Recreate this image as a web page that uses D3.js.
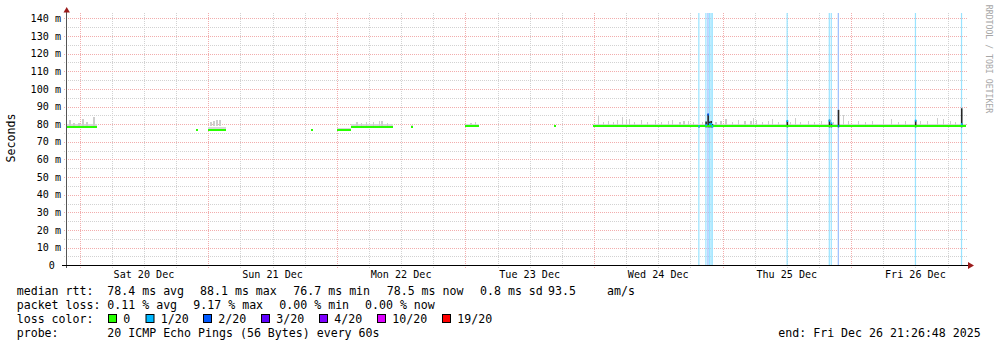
<!DOCTYPE html>
<html>
<head>
<meta charset="utf-8">
<script src="https://cdn.jsdelivr.net/npm/d3@7"></script>
<style>
  html, body { margin: 0; padding: 0; background: #fff; }
  svg { display: block; font-family: "DejaVu Sans Mono", monospace; }
  text { white-space: pre; }
</style>
</head>
<body>
<svg id="svg" width="997" height="347"></svg>
<script>
// ---- data ----
const rangeStart = "2025-12-19 21:26:48";
const rangeEnd = "2025-12-26 21:26:48";
const yTicks = [0, 10, 20, 30, 40, 50, 60, 70, 80, 90, 100, 110, 120, 130, 140];

// [start, end, median rtt (ms), upper smoke (ms)]
const rttSegments = [
  ["2025-12-19 21:42", "2025-12-20 03:18", 78.5, 80.0],
  ["2025-12-20 21:46", "2025-12-20 22:08", 76.6, 77.5],
  ["2025-12-21 00:00", "2025-12-21 03:22", 76.9, 78.3],
  ["2025-12-21 19:14", "2025-12-21 19:36", 76.8, 77.5],
  ["2025-12-22 00:02", "2025-12-22 02:40", 76.9, 78.0],
  ["2025-12-22 02:40", "2025-12-22 10:29", 78.6, 80.0],
  ["2025-12-22 13:56", "2025-12-22 14:18", 78.6, 79.3],
  ["2025-12-23 00:00", "2025-12-23 02:36", 78.7, 80.0],
  ["2025-12-23 16:36", "2025-12-23 16:58", 78.8, 79.5],
  ["2025-12-23 23:52", "2025-12-26 21:26", 78.7, 80.3]
];

// [time, top of smoke (ms)]
const smokeSpikes = [
  ["2025-12-19 22:05", 82.3], ["2025-12-19 22:50", 80.8], ["2025-12-19 23:45", 80.5],
  ["2025-12-20 00:30", 83.0], ["2025-12-20 01:15", 81.0], ["2025-12-20 02:34", 84.0],
  ["2025-12-21 00:24", 81.5], ["2025-12-21 00:57", 82.0], ["2025-12-21 01:31", 82.5], ["2025-12-21 02:05", 82.3],
  ["2025-12-22 03:40", 81.5], ["2025-12-22 04:34", 80.8], ["2025-12-22 05:30", 81.5],
  ["2025-12-22 06:40", 81.0], ["2025-12-22 07:47", 82.0], ["2025-12-22 08:20", 82.0], ["2025-12-22 09:18", 80.5],
  ["2025-12-23 00:55", 80.5], ["2025-12-23 01:50", 81.0],
  ["2025-12-24 00:48", 84.8], ["2025-12-24 01:44", 81.5], ["2025-12-24 02:40", 82.0],
  ["2025-12-24 03:36", 81.3], ["2025-12-24 04:21", 82.3], ["2025-12-24 05:17", 84.2],
  ["2025-12-24 06:02", 82.5], ["2025-12-24 06:35", 83.0], ["2025-12-24 07:31", 81.5],
  ["2025-12-24 08:50", 82.5], ["2025-12-24 09:57", 81.2], ["2025-12-24 11:26", 82.5],
  ["2025-12-24 12:34", 81.5], ["2025-12-24 13:52", 81.8], ["2025-12-24 14:36", 82.3],
  ["2025-12-24 15:56", 81.5], ["2025-12-24 16:41", 82.0], ["2025-12-24 17:36", 81.7],
  ["2025-12-24 18:32", 81.5], ["2025-12-24 20:12", 81.0], ["2025-12-24 22:39", 81.5],
  ["2025-12-24 23:35", 82.0], ["2025-12-25 00:31", 83.0], ["2025-12-25 01:49", 81.5],
  ["2025-12-25 02:56", 82.3], ["2025-12-25 04:04", 81.8], ["2025-12-25 05:11", 82.0],
  ["2025-12-25 05:44", 83.3], ["2025-12-25 06:18", 82.5], ["2025-12-25 07:25", 81.5],
  ["2025-12-25 08:32", 82.0], ["2025-12-25 09:17", 83.0], ["2025-12-25 10:24", 81.5],
  ["2025-12-25 12:38", 81.2], ["2025-12-25 13:34", 83.7], ["2025-12-25 14:30", 81.5],
  ["2025-12-25 16:00", 82.0], ["2025-12-25 17:07", 81.5], ["2025-12-25 18:26", 82.0],
  ["2025-12-25 20:40", 81.5], ["2025-12-25 22:32", 85.0], ["2025-12-25 23:28", 81.8],
  ["2025-12-26 01:20", 82.0], ["2025-12-26 02:38", 81.5], ["2025-12-26 03:56", 81.8],
  ["2025-12-26 06:00", 83.0], ["2025-12-26 07:29", 82.8], ["2025-12-26 08:47", 81.5],
  ["2025-12-26 10:06", 81.7], ["2025-12-26 12:54", 81.8], ["2025-12-26 14:12", 82.0],
  ["2025-12-26 16:04", 83.5], ["2025-12-26 17:11", 83.0], ["2025-12-26 18:30", 82.0],
  ["2025-12-26 19:25", 81.5]
];

// [time, lost pings of 20, median rtt (ms), max rtt (ms)]
const lossEvents = [
  ["2025-12-24 19:28", 1, 78.8, 79.5],
  ["2025-12-24 20:47", 1, 79.5, 81.5],
  ["2025-12-24 21:10", 2, 85.5, 85.8],
  ["2025-12-24 21:27", 1, 80.0, 81.5],
  ["2025-12-24 21:44", 1, 80.0, 81.8],
  ["2025-12-24 21:58", 1, 78.8, 80.0],
  ["2025-12-25 11:57", 1, 81.8, 82.0],
  ["2025-12-25 19:49", 1, 82.0, 82.5],
  ["2025-12-25 20:11", 1, 80.5, 80.5],
  ["2025-12-25 21:30", 2, 79.0, 88.1],
  ["2025-12-26 11:54", 1, 82.0, 82.2],
  ["2025-12-26 20:30", 1, 80.0, 89.0]
];

const lossLabels = ["0", "1/20", "2/20", "3/20", "4/20", "10/20", "19/20"];
const lossCounts = [0, 1, 2, 3, 4, 10, 19];
const lossColors = ["#26ff00", "#00b8ff", "#0059ff", "#5e00ff", "#7e00ff", "#dd00ff", "#ff0000"];

const rttStats = ["78.4 ms avg", "88.1 ms max", "76.7 ms min", "78.5 ms now", "0.8 ms sd", "93.5", "am/s"];
const lossStats = ["0.11 % avg", "9.17 % max", "0.00 % min", "0.00 % now"];
const probeText = "20 ICMP Echo Pings (56 Bytes) every 60s";
const endText = "end: Fri Dec 26 21:26:48 2025";

// ---- drawing ----
const parseFull = d3.utcParse("%Y-%m-%d %H:%M:%S");
const parse = d3.utcParse("%Y-%m-%d %H:%M");
const t0 = parseFull(rangeStart), t1 = parseFull(rangeEnd);
const stepMs = 11.2 * 60 * 1000;

const x = d3.scaleUtc().domain([t0, t1]).range([66, 966]);
const y = d3.scaleLinear().domain([0, 143]).range([265.3, 13]);
const colorOf = (n) => lossColors[lossCounts.indexOf(n)];
const lightOf = (n) => d3.interpolateRgb(colorOf(n), "#fff")(0.6);

const svg = d3.select("#svg");
const fontAxis = "10.1px", fontLegend = "11.6px";

// grid
const grid = svg.append("g").attr("shape-rendering", "crispEdges")
  .attr("stroke-dasharray", "1,1").attr("stroke-width", 1);
const minorY = d3.range(5, 143, 10);
grid.selectAll(".gy").data(minorY).join("line")
  .attr("x1", 64).attr("x2", 968).attr("y1", d => Math.round(y(d)) + 0.5).attr("y2", d => Math.round(y(d)) + 0.5)
  .attr("stroke", "#d2d2d2");
const sixHours = d3.utcHour.every(6).range(t0, t1).filter(d => d.getUTCHours() !== 0);
grid.selectAll(".gx").data(sixHours).join("line")
  .attr("x1", d => Math.round(x(d)) + 0.5).attr("x2", d => Math.round(x(d)) + 0.5)
  .attr("y1", 13).attr("y2", 268).attr("stroke", "#d2d2d2");
grid.selectAll(".my").data(yTicks.filter(d => d > 0)).join("line")
  .attr("x1", 64).attr("x2", 968).attr("y1", d => Math.round(y(d)) + 0.5).attr("y2", d => Math.round(y(d)) + 0.5)
  .attr("stroke", "#f2adad");
const days = d3.utcDay.range(t0, t1);
grid.selectAll(".mx").data(days).join("line")
  .attr("x1", d => Math.round(x(d)) + 0.5).attr("x2", d => Math.round(x(d)) + 0.5)
  .attr("y1", 13).attr("y2", 268).attr("stroke", "#f2adad");

// loss background bars
svg.append("g").selectAll("rect").data(lossEvents).join("rect")
  .attr("x", d => x(parse(d[0])))
  .attr("width", d => Math.max(1.2, x(+parse(d[0]) + stepMs) - x(parse(d[0]))))
  .attr("y", y(143)).attr("height", y(0) - y(143))
  .attr("fill", d => lightOf(d[1]));

// smoke
const smoke = svg.append("g").attr("fill", "#d8d8d8").attr("shape-rendering", "crispEdges");
smoke.selectAll(".band").data(rttSegments).join("rect")
  .attr("x", d => x(parse(d[0])))
  .attr("width", d => x(parse(d[1])) - x(parse(d[0])))
  .attr("y", d => y(d[3])).attr("height", d => y(d[2]) - y(d[3]));
smoke.selectAll(".spike").data(smokeSpikes).join("rect")
  .attr("x", d => x(parse(d[0])))
  .attr("width", 1.2)
  .attr("y", d => y(d[1])).attr("height", d => y(78.7) - y(d[1]))
  .attr("fill", "#cdcdcd");

// dark smoke at loss times
svg.append("g").selectAll("rect").data(lossEvents).join("rect")
  .attr("x", d => x(parse(d[0])))
  .attr("width", 1.6)
  .attr("y", d => y(d[3])).attr("height", d => y(78.2) - y(d[3]))
  .attr("fill", "#262626");

// median line (loss 0)
const line = d3.line().x(d => x(d[0])).y(d => y(d[1])).defined(d => d !== null);
const pts = [];
rttSegments.forEach(s => { pts.push([parse(s[0]), s[2]], [parse(s[1]), s[2]], null); });
svg.append("path").datum(pts).attr("d", line)
  .attr("fill", "none").attr("stroke", lossColors[0]).attr("stroke-width", 2)
  .attr("shape-rendering", "crispEdges");

// median coloured by loss
svg.append("g").selectAll("rect").data(lossEvents).join("rect")
  .attr("x", d => x(parse(d[0])))
  .attr("width", 1.6)
  .attr("y", d => y(d[2]) - 1).attr("height", 2)
  .attr("fill", d => colorOf(d[1]));

// axes
svg.append("line").attr("x1", 66.5).attr("x2", 66.5).attr("y1", 12).attr("y2", 268)
  .attr("stroke", "#555").attr("shape-rendering", "crispEdges");
svg.append("line").attr("x1", 62).attr("x2", 969).attr("y1", 265.5).attr("y2", 265.5)
  .attr("stroke", "#000").attr("shape-rendering", "crispEdges");
svg.append("path").attr("d", "M63.5,12.5L69.9,12.5L66.7,7Z").attr("fill", "#9b1c1c");
svg.append("path").attr("d", "M968,262L968,269L974,265.5Z").attr("fill", "#9b1c1c");

// y labels
svg.append("g").selectAll("text").data(yTicks).join("text")
  .attr("x", 61).attr("y", d => y(d) + 3.7)
  .attr("text-anchor", "end").style("font-size", fontAxis).attr("fill", "#000")
  .text(d => d === 0 ? "0 " : d + " m");

// x labels at noon
svg.append("g").selectAll("text").data(days).join("text")
  .attr("x", d => x(d3.utcHour.offset(d, 12))).attr("y", 278)
  .attr("text-anchor", "middle").style("font-size", fontAxis).attr("fill", "#000")
  .text(d3.utcFormat("%a %d %b"));

// vertical unit label
svg.append("text").attr("transform", "translate(15,138) rotate(-90)")
  .attr("text-anchor", "middle").style("font-size", fontLegend).text("Seconds");

// watermark
svg.append("text").attr("transform", "translate(985.8,59) rotate(90)")
  .attr("text-anchor", "middle").style("font-size", "8.2px").attr("fill", "#a6a6a6")
  .text("RRDTOOL / TOBI OETIKER");

// legend
const leg = svg.append("g").style("font-size", fontLegend).attr("fill", "#000");
const rttCols = [107.3, 200, 293.3, 386.7, 480, 548, 607];
leg.append("text").attr("x", 16.7).attr("y", 295).text("median rtt:");
leg.selectAll(".rs").data(rttStats).join("text")
  .attr("x", (d, i) => rttCols[i]).attr("y", 295).text(d => d);
const lossCols = [107.3, 193.3, 279.3, 365];
leg.append("text").attr("x", 16.7).attr("y", 309).text("packet loss:");
leg.selectAll(".ls").data(lossStats).join("text")
  .attr("x", (d, i) => lossCols[i]).attr("y", 309).text(d => d);
const boxCols = [108.5, 146, 203.5, 261.5, 319.5, 377.5, 442.5];
leg.append("text").attr("x", 16.7).attr("y", 323).text("loss color:");
leg.selectAll(".lb").data(lossLabels).join("rect")
  .attr("x", (d, i) => boxCols[i]).attr("y", 314.5).attr("width", 8).attr("height", 8)
  .attr("fill", (d, i) => lossColors[i]).attr("stroke", "#000").attr("stroke-width", 1);
leg.selectAll(".lt").data(lossLabels).join("text")
  .attr("x", (d, i) => boxCols[i] + 14.8).attr("y", 323).text(d => d);
leg.append("text").attr("x", 16.7).attr("y", 337).text("probe:");
leg.append("text").attr("x", 107.3).attr("y", 337).text(probeText);
leg.append("text").attr("x", 778.3).attr("y", 337).text(endText);
</script>
</body>
</html>
